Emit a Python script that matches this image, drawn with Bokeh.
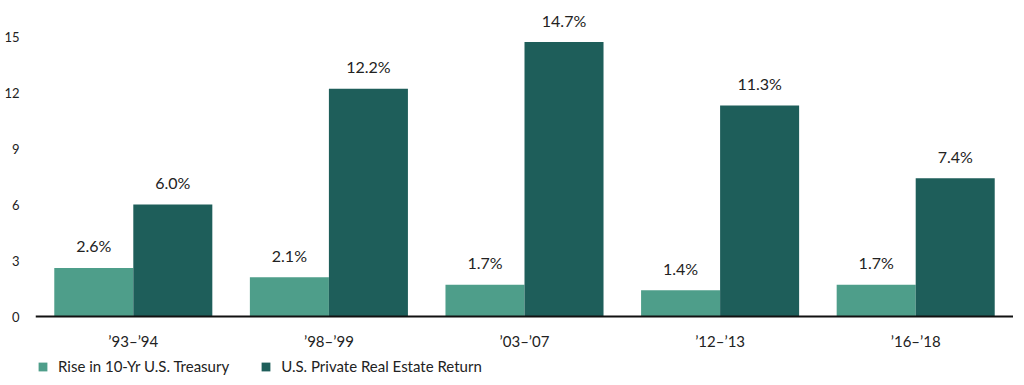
from bokeh.plotting import figure
from bokeh.models import FactorRange, Range1d, FixedTicker, Legend, LegendItem, ColumnDataSource
from bokeh.transform import dodge
from bokeh.core.properties import value
from bokeh.embed import file_html
from bokeh.resources import INLINE

periods = ["\u201993\u2013\u201994", "\u201998\u2013\u201999", "\u201903\u2013\u201907", "\u201912\u2013\u201913", "\u201916\u2013\u201918"]
treasury = [2.6, 2.1, 1.7, 1.4, 1.7]
real_estate = [6.0, 12.2, 14.7, 11.3, 7.4]
series_names = ["Rise in 10-Yr U.S. Treasury", "U.S. Private Real Estate Return"]
y_ticks = [0, 3, 6, 9, 12, 15]

LIGHT = "#4E9E8A"
DARK = "#1E5E5A"
FONT = "Lato"
TEXT = "#222222"

src = ColumnDataSource(dict(
    period=periods,
    treasury=treasury,
    real_estate=real_estate,
    t_lab=[f"{v:.1f}%" for v in treasury],
    r_lab=[f"{v:.1f}%" for v in real_estate],
))

# frame spans the full height; 0 sits at 316px from the top, 18.667 px per unit
p = figure(frame_width=978, frame_height=380, x_range=FactorRange(*periods),
           y_range=Range1d(-3.4286, 16.929),
           output_backend="svg", toolbar_location=None,
           min_border_left=35, min_border_right=0, min_border_top=0, min_border_bottom=0)
p.outline_line_color = None
p.grid.grid_line_color = None

w = 0.404
r1 = p.vbar(x=dodge("period", -w / 2, range=p.x_range), top="treasury", width=w, source=src,
            fill_color=LIGHT, line_color=None)
r2 = p.vbar(x=dodge("period", w / 2, range=p.x_range), top="real_estate", width=w, source=src,
            fill_color=DARK, line_color=None)

for col, lab, off in (("treasury", "t_lab", -w / 2), ("real_estate", "r_lab", w / 2)):
    p.text(x=dodge("period", off, range=p.x_range), y=col, text=lab, source=src,
           text_align="center", text_baseline="alphabetic", y_offset=-22,
           text_font=value(FONT), text_font_size="16px", text_color=TEXT)

p.yaxis.ticker = FixedTicker(ticks=y_ticks)
p.yaxis.axis_line_color = None
p.yaxis.major_tick_line_color = None
p.yaxis.minor_tick_line_color = None
p.yaxis.major_tick_out = 0
p.yaxis.major_tick_in = 0
p.yaxis.minor_tick_out = 0
p.yaxis.major_label_standoff = 16
p.yaxis.major_label_text_font = FONT
p.yaxis.major_label_text_font_size = "13px"
p.yaxis.major_label_text_color = TEXT

p.xaxis.fixed_location = 0
p.xaxis.axis_line_color = "#111111"
p.xaxis.axis_line_width = 2
p.xaxis.major_tick_line_color = None
p.xaxis.minor_tick_line_color = None
p.xaxis.major_label_standoff = 9
p.xaxis.major_label_text_font = FONT
p.xaxis.major_label_text_font_size = "15px"
p.xaxis.major_label_text_color = TEXT

legend = Legend(items=[LegendItem(label=series_names[0], renderers=[r1]),
                       LegendItem(label=series_names[1], renderers=[r2])],
                orientation="horizontal", location=(2, 5),
                glyph_width=11, glyph_height=11, label_standoff=10, spacing=31,
                padding=0, margin=0, border_line_color=None, background_fill_alpha=0,
                label_text_font=FONT, label_text_font_size="15px", label_text_color=TEXT)
p.add_layout(legend, "center")

open("out.html", "w").write(file_html(p, INLINE))
